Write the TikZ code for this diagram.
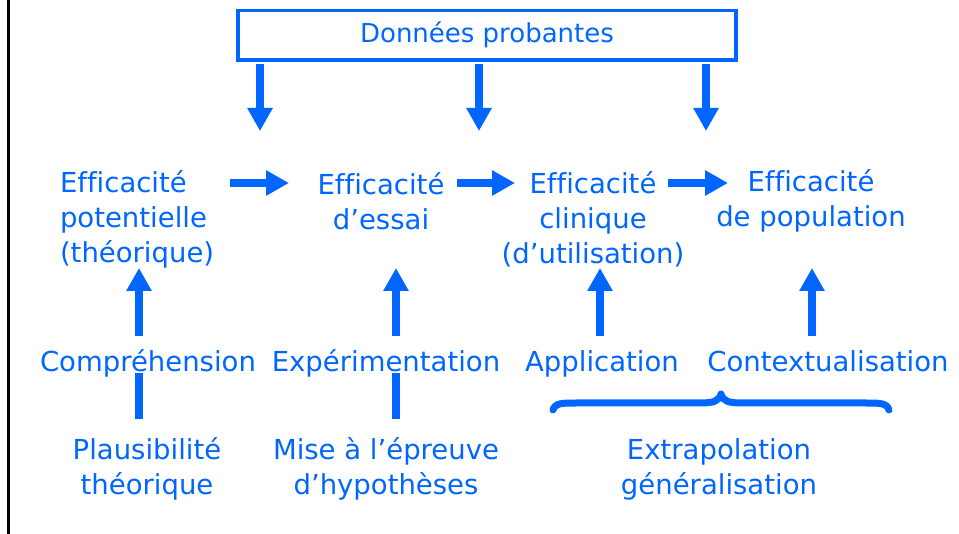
\documentclass[tikz,border=0pt]{standalone}
\usepackage{fontspec}
\setmainfont[Ligatures=NoCommon]{DejaVu Sans}
\usetikzlibrary{arrows.meta}
\definecolor{evblue}{RGB}{0,102,255}
\tikzset{
  lbl/.style={text=evblue, inner sep=0pt, outer sep=0pt, font=\fontsize{27.5}{35}\selectfont},
  blockarrow/.style={draw=evblue, line width=8pt, -{Triangle[width=24pt,length=23pt]}},
  bar/.style={draw=evblue, line width=8pt},
  topbox/.style={lbl, font=\fontsize{26}{35}\selectfont, draw=evblue, line width=3.5pt, minimum width=498pt, minimum height=49.5pt},
}
\begin{document}
\begin{tikzpicture}[x=1pt,y=-1pt]
\useasboundingbox (0,0) rectangle (959,534);
% left frame line
\draw[line width=2.5pt] (8.5,0) -- (8.5,534);

% header box
\node[topbox] (box) at (487,35.25) {Données probantes};

% efficacy stages
\node[lbl, anchor=west, align=left] (e1) at (60,219) {Efficacité\\potentielle\\(théorique)};
\node[lbl, align=center] (e2) at (381,201) {Efficacité\\d’essai};
\node[lbl, align=center] (e3) at (593,219) {Efficacité\\clinique\\(d’utilisation)};
\node[lbl, align=center] (e4) at (811,201) {Efficacité\\de population};

% processes
\node[lbl, anchor=base] (comp) at (148,372) {Compréhension};
\node[lbl, anchor=base] (expe) at (386,372) {Expérimentation};
\node[lbl, anchor=base] (appl) at (602,372) {Application};
\node[lbl, anchor=base] (ctxt) at (828,372) {Contextualisation};

% foundations
\node[lbl, align=center] (plaus) at (147,469) {Plausibilité\\théorique};
\node[lbl, align=center] (mise) at (386,469) {Mise à l’épreuve\\d’hypothèses};
\node[lbl, align=center] (extra) at (719,469) {Extrapolation\\généralisation};

% arrow end points
\coordinate (d1) at (260,131);
\coordinate (d2) at (479,131);
\coordinate (d3) at (706,131);
\coordinate (h1a) at (230,183); \coordinate (h1b) at (289,183);
\coordinate (h2a) at (457,183); \coordinate (h2b) at (515,183);
\coordinate (h3a) at (668,183); \coordinate (h3b) at (728,183);

% evidence feeds each transition
\draw[blockarrow] ([yshift=-4pt]box.south -| d1) -- (d1);
\draw[blockarrow] ([yshift=-4pt]box.south -| d2) -- (d2);
\draw[blockarrow] ([yshift=-4pt]box.south -| d3) -- (d3);

% progression between stages
\draw[blockarrow] (h1a) -- (h1b);
\draw[blockarrow] (h2a) -- (h2b);
\draw[blockarrow] (h3a) -- (h3b);

% processes lead up to stages
\draw[blockarrow] (139,336) -- (139,268);
\draw[blockarrow] (396,336) -- (396,268);
\draw[blockarrow] (600,336) -- (600,268);
\draw[blockarrow] (812,336) -- (812,268);

% links to foundations
\draw[bar] (139,373) -- (139,419);
\draw[bar] (396,373) -- (396,419);

% brace grouping application and contextualisation
\draw[evblue, line width=7pt, line cap=round, line join=round]
  (553,410) .. controls (555,403) and (562,403) .. (576,403) -- (700,403)
  .. controls (714,403) and (719,401) .. (721,394)
  .. controls (723,401) and (728,403) .. (742,403) -- (866,403)
  .. controls (880,403) and (887,403) .. (889,410);
\end{tikzpicture}
\end{document}
